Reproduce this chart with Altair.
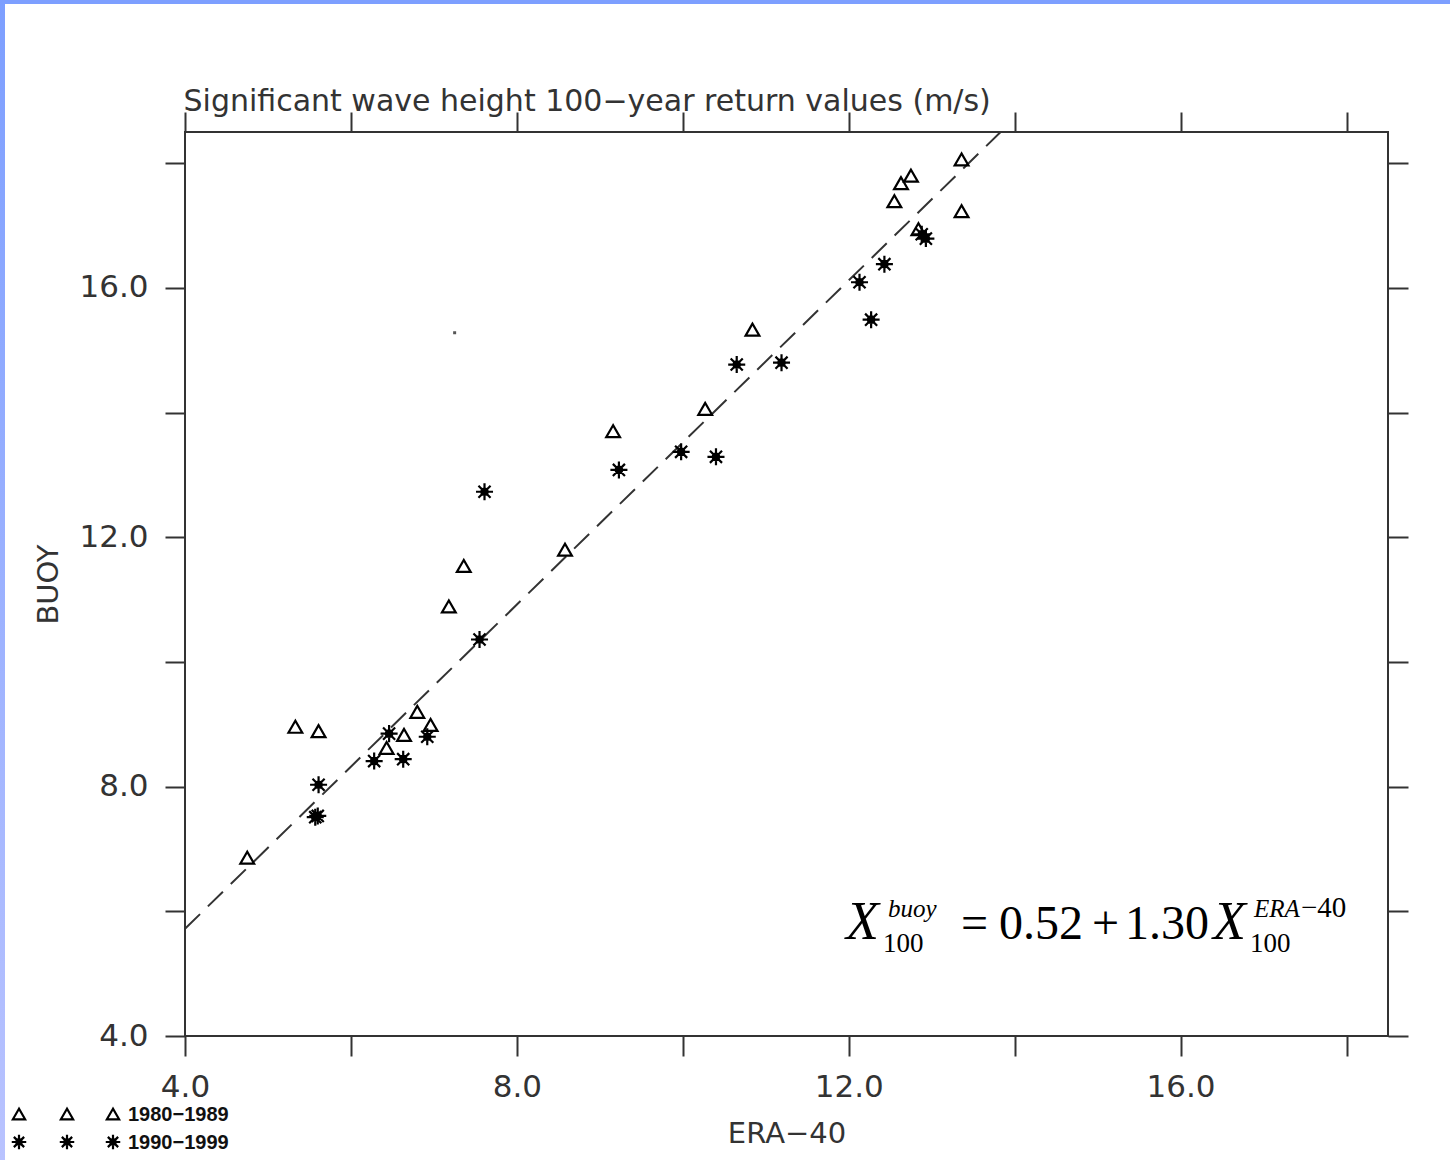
import altair as alt
import pandas as pd

# 100-year return values of significant wave height, ERA-40 vs buoy
era_1980s = [4.75, 5.33, 5.61, 6.43, 6.64, 6.80, 6.96, 7.18, 7.36, 8.58,
             9.16, 10.27, 10.84, 12.55, 12.63, 12.75, 12.84, 13.36, 13.36]
buoy_1980s = [6.86, 8.96, 8.89, 8.62, 8.83, 9.20, 8.99, 10.89, 11.54, 11.80,
              13.70, 14.06, 15.33, 17.39, 17.68, 17.80, 16.94, 18.06, 17.23]

era_1990s = [5.57, 5.60, 5.61, 6.28, 6.46, 6.63, 6.92, 7.55, 7.61, 9.23,
             9.98, 10.40, 10.65, 11.19, 12.13, 12.27, 12.43, 12.88, 12.93]
buoy_1990s = [7.51, 7.53, 8.03, 8.41, 8.85, 8.44, 8.80, 10.36, 12.73, 13.08,
              13.37, 13.29, 14.77, 14.80, 16.09, 15.49, 16.38, 16.86, 16.79]

speck_era = [7.25]
speck_buoy = [15.28]

# fitted relation X100_buoy = a + b * X100_ERA40
intercept = 0.52
slope = 1.30

axis_min, axis_max = 4.0, 18.5
tick_values = [4, 6, 8, 10, 12, 14, 16, 18]

# layout (pixels)
W, H = 1203, 904
LEFT, TOP = 185, 132
TOTAL_W, TOTAL_H = 1450, 1160

FONT = "DejaVu Sans"
SERIF = "Liberation Serif"
INK = "#333333"

df80 = pd.DataFrame({"era": era_1980s, "buoy": buoy_1980s})
df90 = pd.DataFrame({"era": era_1990s, "buoy": buoy_1990s})
dfspeck = pd.DataFrame({"era": speck_era, "buoy": speck_buoy})
x_end = (axis_max - intercept) / slope
dfline = pd.DataFrame({"era": [axis_min, x_end],
                       "buoy": [intercept + slope * axis_min, intercept + slope * x_end]})

scale = alt.Scale(domain=[axis_min, axis_max], nice=False, zero=False)
label_expr = "datum.value % 4 == 0 ? format(datum.value, '.1f') : ''"

common_axis = dict(values=tick_values, tickSize=20, tickWidth=2, tickColor=INK,
                   domain=False, grid=False, labelFont=FONT, labelFontSize=31,
                   labelColor=INK, labelFlush=False, labelOverlap=False,
                   titleFont=FONT, titleFontWeight="normal", titleColor=INK)

x_bottom = alt.Axis(orient="bottom", labelExpr=label_expr, labelPadding=16,
                    title="ERA−40", titleFontSize=29, titleX=W / 2, titleY=106,
                    titleAlign="center", titleBaseline="alphabetic", **common_axis)
y_left = alt.Axis(orient="left", labelExpr=label_expr, labelPadding=17,
                  title="BUOY", titleFontSize=29, titleX=57 - LEFT, titleY=H / 2,
                  titleAngle=270, titleAlign="center", titleBaseline="alphabetic",
                  **common_axis)
x_top = alt.Axis(orient="top", labels=False,
                 title="Significant wave height 100−year return values (m/s)",
                 titleFontSize=30, titleX=-2, titleY=110 - TOP, titleAlign="left",
                 titleBaseline="alphabetic", **common_axis)
y_right = alt.Axis(orient="right", labels=False, title=None, **common_axis)

# asterisk: four crossing strokes and a solid centre
STAR = ("M-1,0L1,0M0,-1L0,1M-0.71,-0.71L0.71,0.71M-0.71,0.71L0.71,-0.71"
        "M0.38,0A0.38,0.38,0,1,1,-0.38,0A0.38,0.38,0,1,1,0.38,0Z")

tri_style = dict(shape="triangle-up", filled=False, color="black", strokeWidth=2.2, opacity=1)
star_style = dict(shape=STAR, filled=True, fill="black", stroke="black", strokeWidth=2.2, opacity=1)

triangles = alt.Chart(df80).mark_point(size=190, **tri_style).encode(
    x=alt.X("era:Q", scale=scale, axis=x_bottom),
    y=alt.Y("buoy:Q", scale=scale, axis=y_left),
)
stars = alt.Chart(df90).mark_point(size=290, **star_style).encode(
    x=alt.X("era:Q", scale=scale, axis=x_top),
    y=alt.Y("buoy:Q", scale=scale, axis=y_right),
)
fit = alt.Chart(dfline).mark_line(color=INK, strokeWidth=2, strokeDash=[21, 11]).encode(
    x=alt.X("era:Q", scale=scale, axis=None),
    y=alt.Y("buoy:Q", scale=scale, axis=None),
)
speck = alt.Chart(dfspeck).mark_square(size=9, color="#555555", opacity=1).encode(
    x=alt.X("era:Q", scale=scale, axis=None),
    y=alt.Y("buoy:Q", scale=scale, axis=None),
)

one_row = alt.Data(values=[{}])


def place(chart, px, py):
    """Anchor a single-row mark at page pixel (px, py)."""
    return chart.encode(x=alt.value(px - LEFT), y=alt.value(py - TOP))


# page frame: blue bar along the top and a shaded strip down the left edge
frame_top = alt.Chart(one_row).mark_rect(color="#7d9fff").encode(
    x=alt.value(-LEFT), x2=alt.value(TOTAL_W - LEFT),
    y=alt.value(-TOP), y2=alt.value(4 - TOP))
frame_left = alt.Chart(one_row).mark_rect(
    color=alt.Gradient(gradient="linear",
                       stops=[alt.GradientStop(color="#7d9fff", offset=0),
                              alt.GradientStop(color="#b9c3ff", offset=1)],
                       x1=0, x2=0, y1=0, y2=1)).encode(
    x=alt.value(-LEFT), x2=alt.value(5 - LEFT),
    y=alt.value(-TOP), y2=alt.value(TOTAL_H - TOP))

# key in the lower-left corner
key_layers = []
for kx in [19, 67, 113]:
    key_layers.append(place(alt.Chart(one_row).mark_point(size=150, **tri_style), kx, 1114))
    key_layers.append(place(alt.Chart(one_row).mark_point(size=210, **star_style), kx, 1142))
key_text = dict(font="Liberation Sans", fontSize=20, fontWeight="bold", color="#111111",
                align="left", baseline="middle")
key_layers.append(place(alt.Chart(one_row).mark_text(text="1980−1989", **key_text), 128, 1115))
key_layers.append(place(alt.Chart(one_row).mark_text(text="1990−1999", **key_text), 128, 1143))

# regression formula written out in math style
eq_pieces = [
    ("X", 846, 939, 54, "italic"),
    ("buoy", 888, 917, 25, "italic"),
    ("100", 883, 952, 27, "normal"),
    ("=", 961, 939, 48, "normal"),
    ("0.52", 999, 939, 48, "normal"),
    ("+", 1092, 939, 48, "normal"),
    ("1.30", 1125, 939, 48, "normal"),
    ("X", 1213, 939, 54, "italic"),
    ("ERA", 1254, 917, 25, "italic"),
    ("−40", 1301, 917, 29, "normal"),
    ("100", 1250, 952, 27, "normal"),
]
eq_layers = [
    place(alt.Chart(one_row).mark_text(text=t, font=SERIF, fontSize=fs, fontStyle=st,
                                       color="black", align="left", baseline="alphabetic"),
          px, py)
    for t, px, py, fs, st in eq_pieces
]

chart = alt.layer(
    frame_top, frame_left, fit, speck, triangles, stars, *key_layers, *eq_layers
).resolve_axis(
    x="independent", y="independent"
).properties(
    width=W, height=H,
    autosize=alt.AutoSizeParams(type="none"),
    padding={"left": LEFT, "top": TOP, "right": TOTAL_W - LEFT - W, "bottom": TOTAL_H - TOP - H},
    background="white",
).configure_view(
    stroke=INK, strokeWidth=2
)

chart.save("out.html", embed_options={"renderer": "svg", "actions": False})
